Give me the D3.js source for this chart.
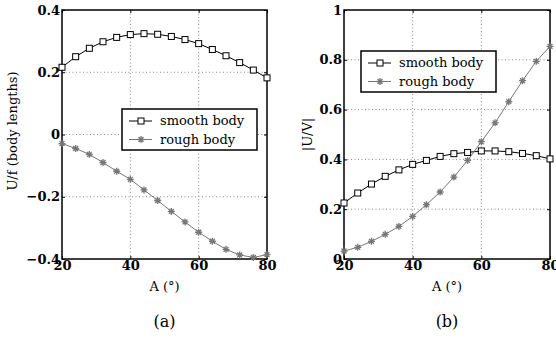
<!DOCTYPE html>
<html>
<head>
<meta charset="UTF-8" />
<title>U/f and |U/V| vs A</title>
<script src="https://d3js.org/d3.v7.min.js"></script>
<style>
  body { margin: 0; background: #fff; }
  text { font-family: "DejaVu Serif", serif; fill: #000; }
</style>
</head>
<body>
<script type="text/javascript">

// angle A in degrees
var angles = [20, 24, 28, 32, 36, 40, 44, 48, 52, 56, 60, 64, 68, 72, 76, 80];

// panel (a): U/f (body lengths)
var smoothA = [0.216, 0.250, 0.277, 0.298, 0.312, 0.321, 0.324, 0.322, 0.315, 0.305, 0.292, 0.273, 0.253, 0.231, 0.207, 0.182];
var roughA = [-0.029, -0.045, -0.064, -0.090, -0.118, -0.144, -0.178, -0.212, -0.247, -0.281, -0.314, -0.343, -0.369, -0.387, -0.395, -0.386];

// panel (b): |U/V|
var smoothB = [0.225, 0.265, 0.301, 0.332, 0.358, 0.380, 0.396, 0.412, 0.423, 0.428, 0.434, 0.434, 0.431, 0.424, 0.415, 0.402];
var roughB = [0.032, 0.047, 0.071, 0.099, 0.131, 0.171, 0.218, 0.269, 0.329, 0.396, 0.471, 0.547, 0.632, 0.716, 0.794, 0.854];

var xTicks = [20, 40, 60, 80];
var yTicksA = [-0.4, -0.2, 0, 0.2, 0.4];
var yTicksB = [0, 0.2, 0.4, 0.6, 0.8, 1];
var seriesNames = ["smooth body", "rough body"];

var width = 556, height = 341;
var grey = "#777777";

var svg = d3.select("body").append("svg")
    .attr("width", width)
    .attr("height", height);

function fmt(v) {
    if (v === 0) return "0";
    if (v === 1) return "1";
    return (v < 0 ? "\u2212" : "") + Math.abs(v).toFixed(1);
}

function asterisk(g, x, y, r) {
    var d = "M" + (x - r) + "," + y + "H" + (x + r) +
            "M" + x + "," + (y - r) + "V" + (y + r) +
            "M" + (x - r * 0.7) + "," + (y - r * 0.7) + "L" + (x + r * 0.7) + "," + (y + r * 0.7) +
            "M" + (x - r * 0.7) + "," + (y + r * 0.7) + "L" + (x + r * 0.7) + "," + (y - r * 0.7);
    g.append("path").attr("d", d).attr("stroke", grey).attr("stroke-width", 1.3).attr("fill", "none");
}

function square(g, x, y, s) {
    g.append("rect")
        .attr("x", x - s / 2).attr("y", y - s / 2)
        .attr("width", s).attr("height", s)
        .attr("fill", "#fff").attr("stroke", "#000").attr("stroke-width", 1);
}

function panel(p) {
    var x = d3.scaleLinear().domain([20, 80]).range([p.left, p.right]);
    var y = d3.scaleLinear().domain(p.yDomain).range([259, 10]);
    var g = svg.append("g");

    // grid
    g.selectAll(".gx").data(xTicks.slice(1, -1)).enter().append("line")
        .attr("x1", d => x(d)).attr("x2", d => x(d))
        .attr("y1", y.range()[1]).attr("y2", y.range()[0])
        .attr("stroke", "#8c8c8c").attr("stroke-width", 1).attr("stroke-dasharray", "1,2.5");
    g.selectAll(".gy").data(p.yTicks.slice(1, -1)).enter().append("line")
        .attr("x1", p.left).attr("x2", p.right)
        .attr("y1", d => y(d)).attr("y2", d => y(d))
        .attr("stroke", "#8c8c8c").attr("stroke-width", 1).attr("stroke-dasharray", "1,2.5");

    // axes with inward ticks
    var ax = g.append("g").attr("transform", "translate(0,259)")
        .call(d3.axisBottom(x).tickValues(xTicks).tickSize(-3).tickPadding(3).tickFormat(d3.format("d")));
    ax.select(".domain").remove();
    ax.selectAll("text").attr("font-size", 13).attr("font-weight", "bold")
        .attr("font-family", "DejaVu Serif").attr("dy", "0.62em");
    var ay = g.append("g").attr("transform", "translate(" + p.left + ",0)")
        .call(d3.axisLeft(y).tickValues(p.yTicks).tickSize(-3).tickPadding(3).tickFormat(fmt));
    ay.select(".domain").remove();
    ay.selectAll("text").attr("font-size", 13).attr("font-weight", "bold")
        .attr("font-family", "DejaVu Serif").attr("dx", "1");
    g.append("g").attr("transform", "translate(" + p.right + ",0)")
        .call(d3.axisRight(y).tickValues(p.yTicks).tickSize(-3).tickFormat(""))
        .select(".domain").remove();
    g.append("g").attr("transform", "translate(0,10)")
        .call(d3.axisTop(x).tickValues(xTicks).tickSize(-3).tickFormat(""))
        .select(".domain").remove();
    g.selectAll(".tick line").attr("stroke", "#000");

    g.append("rect")
        .attr("x", p.left).attr("y", 10)
        .attr("width", p.right - p.left).attr("height", 249)
        .attr("fill", "none").attr("stroke", "#000").attr("stroke-width", 1.5);

    // lines
    var line = d3.line().x((d, i) => x(angles[i])).y(d => y(d));
    g.append("path").datum(p.smooth).attr("d", line)
        .attr("fill", "none").attr("stroke", "#000").attr("stroke-width", 1);
    g.append("path").datum(p.rough).attr("d", line)
        .attr("fill", "none").attr("stroke", grey).attr("stroke-width", 1);
    p.smooth.forEach((v, i) => square(g, x(angles[i]), y(v), 6));
    p.rough.forEach((v, i) => asterisk(g, x(angles[i]), y(v), 3.5));

    // labels
    var cx = (p.left + p.right) / 2;
    g.append("text").attr("x", cx).attr("y", 291)
        .attr("text-anchor", "middle").attr("font-size", 13).text("A (\u00b0)");
    g.append("text")
        .attr("transform", "translate(" + p.ylabX + "," + p.ylabY + ") rotate(-90)")
        .attr("text-anchor", "middle").attr("dy", "0.35em")
        .attr("font-size", 13).text(p.ylabel);
    g.append("text").attr("x", cx).attr("y", 327)
        .attr("text-anchor", "middle").attr("font-size", 16).text(p.caption);

    // legend
    var lg = svg.append("g").attr("transform", "translate(" + p.legX + "," + p.legY + ")");
    lg.append("rect").attr("x", 0).attr("y", 0).attr("width", 135).attr("height", 41)
        .attr("fill", "#fff").attr("stroke", "#000").attr("stroke-width", 1.5);
    seriesNames.forEach(function (name, i) {
        var ry = 12 + i * 18.5;
        lg.append("line").attr("x1", 7).attr("x2", 30).attr("y1", ry).attr("y2", ry)
            .attr("stroke", i === 0 ? "#000" : grey).attr("stroke-width", 1);
        if (i === 0) square(lg, 19, ry, 6); else asterisk(lg, 19, ry, 3.5);
        lg.append("text").attr("x", 38).attr("y", ry).attr("dy", "0.32em")
            .attr("font-size", 13).text(name);
    });
}

panel({
    left: 62, right: 267, yDomain: [-0.4, 0.4], yTicks: yTicksA,
    smooth: smoothA, rough: roughA, ylabel: "U/f (body lengths)", ylabX: 12, ylabY: 131,
    caption: "(a)", legX: 122, legY: 109
});
panel({
    left: 344, right: 550, yDomain: [0, 1], yTicks: yTicksB,
    smooth: smoothB, rough: roughB, ylabel: "|U/V|", ylabX: 307, ylabY: 134.5,
    caption: "(b)", legX: 361, legY: 51
});

</script>
</body>
</html>
